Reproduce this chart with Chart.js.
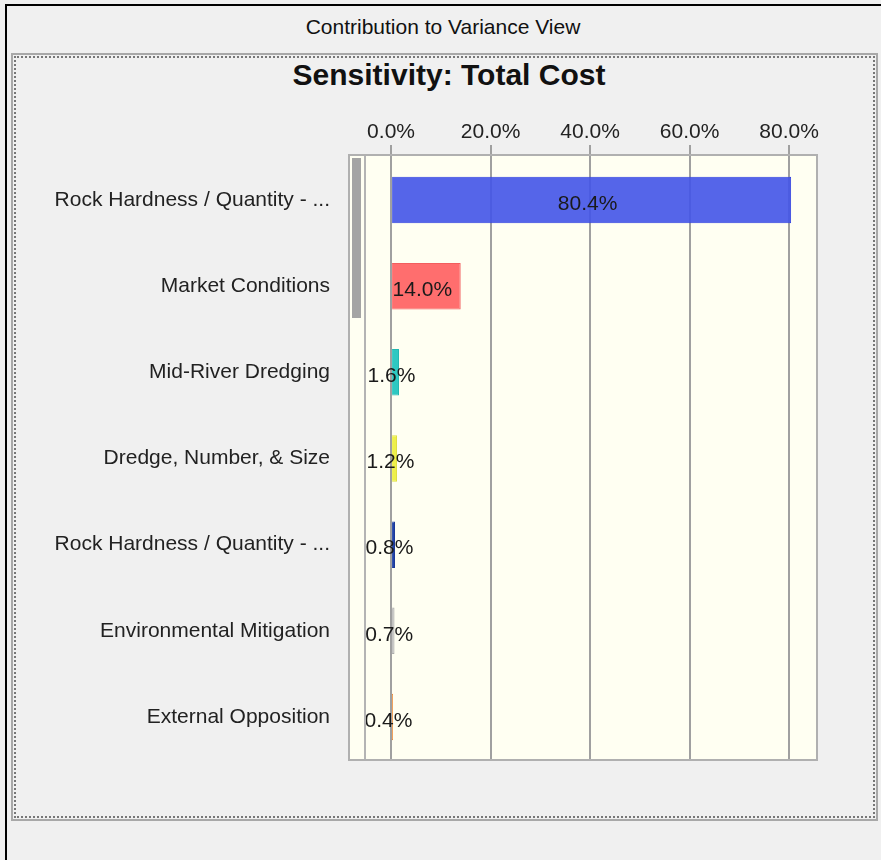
<!DOCTYPE html>
<html>
<head>
<meta charset="utf-8">
<script src="https://cdn.jsdelivr.net/npm/chart.js@4.4.1/dist/chart.umd.min.js"></script>
<style>
  html, body { margin:0; padding:0; background:#f0f0f0; width:881px; height:860px; overflow:hidden; font-family:"Liberation Sans", Arial, sans-serif; position:relative; }
  #winL { position:absolute; left:5px; top:4px; width:2px; height:856px; background:#000; }
  #winT { position:absolute; left:5px; top:4px; width:876px; height:2px; background:#000; }
  #wtitle { position:absolute; left:0; width:886px; top:15px; text-align:center; font-size:21px; color:#111; }
  #outer { position:absolute; left:11px; top:53px; width:863px; height:764px; border:2px solid #a8a8a8; }
  #inner { position:absolute; left:1px; top:1px; right:1px; bottom:1px; border:2px dotted #777; }
  #ctitle { position:absolute; left:0; width:898px; top:58px; text-align:center; font-size:30px; font-weight:bold; color:#111; }
  #c { position:absolute; left:0; top:0; }
  #rcover { position:absolute; left:878px; top:7px; width:3px; height:853px; background:#f0f0f0; z-index:5; }
</style>
</head>
<body>
<div id="winL"></div>
<div id="winT"></div>
<div id="wtitle">Contribution to Variance View</div>
<div id="outer"><div id="inner"></div></div>
<div id="ctitle">Sensitivity: Total Cost</div>
<canvas id="c" width="881" height="860"></canvas>
<div id="rcover"></div>
<script>
const categories = [
  "Rock Hardness / Quantity - ...",
  "Market Conditions",
  "Mid-River Dredging",
  "Dredge, Number, & Size",
  "Rock Hardness / Quantity - ...",
  "Environmental Mitigation",
  "External Opposition"
];
const contributions = [80.4, 14.0, 1.6, 1.2, 0.8, 0.7, 0.4];
const barColors = ["rgba(66,84,232,0.9)", "#ff6e6e", "#2ec8c2", "#eef04a", "#2244a8", "#bcbcbc", "#f08224"];
const barBorders = ["#3444e0", "#f25e5e", "#22b8b2", "#e0e040", "#1a3898", "#aaaaaa", "#e07018"];
const tickValues = [0, 20, 40, 60, 80];
const axisMin = -8.45, axisMax = 85.6;

const FONT = "'Liberation Sans', Arial, sans-serif";
const FRAME_TOP = 155;

const framePlugin = {
  id: 'frame',
  beforeDraw(chart) {
    const {ctx, chartArea: a} = chart;
    ctx.save();
    ctx.fillStyle = '#fffff2';
    ctx.fillRect(a.left, FRAME_TOP, a.right - a.left, a.bottom - FRAME_TOP);
    ctx.fillStyle = '#a4a4a4';
    ctx.fillRect(352, FRAME_TOP + 3, 9, 160);
    ctx.restore();
  },
  afterDraw(chart) {
    const {ctx, chartArea: a} = chart;
    ctx.save();
    const meta = chart.getDatasetMeta(0);
    ctx.font = "21px " + FONT;
    ctx.fillStyle = '#1a1a1a';
    ctx.textAlign = 'center';
    ctx.textBaseline = 'middle';
    meta.data.forEach((bar, i) => {
      const cx = (bar.x + bar.base) / 2 - 4;
      ctx.fillText(contributions[i].toFixed(1) + '%', cx, bar.y + 4);
    });
    ctx.strokeStyle = '#b4b4b4';
    ctx.lineWidth = 2;
    ctx.beginPath(); ctx.moveTo(365, FRAME_TOP); ctx.lineTo(365, a.bottom); ctx.stroke();
    ctx.strokeStyle = '#b0b0b0';
    ctx.strokeRect(a.left, FRAME_TOP, a.right - a.left, a.bottom - FRAME_TOP);
    ctx.restore();
  }
};

new Chart(document.getElementById('c'), {
  type: 'bar',
  data: {
    labels: categories,
    datasets: [{
      data: contributions,
      backgroundColor: barColors,
      borderColor: barBorders,
      borderWidth: 1,
      categoryPercentage: 0.54,
      barPercentage: 1.0
    }]
  },
  options: {
    indexAxis: 'y',
    responsive: false,
    animation: false,
    layout: { padding: { top: 100, left: 0, right: 64, bottom: 100 } },
    plugins: { legend: { display: false }, tooltip: { enabled: false } },
    scales: {
      x: {
        position: 'top',
        min: axisMin,
        max: axisMax,
        z: 1,
        afterBuildTicks(scale) { scale.ticks = tickValues.map(v => ({ value: v })); },
        afterFit(scale) { scale.height = 57; },
        ticks: {
          font: { family: FONT, size: 21 },
          color: '#222',
          padding: 0,
          maxRotation: 0,
          callback: (v) => Number(v).toFixed(1) + '%'
        },
        grid: { color: '#a0a0a0', lineWidth: 2, tickLength: 12, drawOnChartArea: true },
        border: { display: false }
      },
      y: {
        afterFit(scale) { scale.width = 349; },
        ticks: {
          font: { family: FONT, size: 21 },
          color: '#222',
          padding: 19
        },
        grid: { display: false, drawTicks: false },
        border: { display: false }
      }
    }
  },
  plugins: [framePlugin]
});
</script>
</body>
</html>
